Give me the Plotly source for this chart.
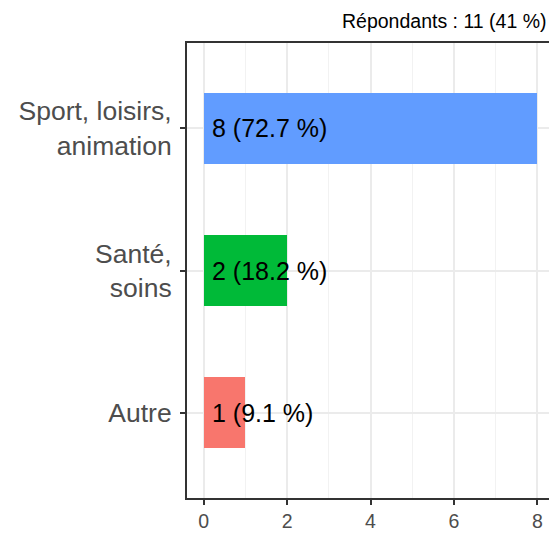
import plotly.graph_objects as go

categories = ["Autre", "Santé,<br>soins", "Sport, loisirs,<br>animation"]
counts = [1, 2, 8]
percents = [9.1, 18.2, 72.7]
colors = ["#F8766D", "#00BA38", "#619CFF"]
title_text = "Répondants : 11 (41 %)"
x_ticks = [0, 2, 4, 6, 8]

FONT = "Liberation Sans, Arial, sans-serif"

fig = go.Figure()
fig.add_trace(go.Bar(
    y=categories, x=counts, orientation="h",
    marker=dict(color=colors, line=dict(width=0)),
    width=0.5, hoverinfo="skip",
))

for c, n, p in zip(categories, counts, percents):
    fig.add_annotation(
        x=0, y=c, xref="x", yref="y",
        text=f"{n} ({p} %)", showarrow=False,
        xanchor="left", yanchor="middle", xshift=6,
        font=dict(family=FONT, size=25, color="black"),
    )

fig.add_annotation(
    x=1, y=1, xref="paper", yref="paper", xanchor="right", yanchor="bottom",
    yshift=9, xshift=-5, text=title_text, showarrow=False,
    font=dict(family=FONT, size=19.5, color="black"),
)

fig.update_layout(
    width=549, height=525,
    margin=dict(l=179, r=1, t=35, b=32, pad=0),
    plot_bgcolor="white", paper_bgcolor="white",
    showlegend=False,
    bargap=0,
    xaxis=dict(
        range=[-0.4, 8.4], tickvals=x_ticks, ticktext=[str(t) for t in x_ticks],
        showgrid=True, gridcolor="#EBEBEB", gridwidth=2,
        minor=dict(tickvals=[1, 3, 5, 7], showgrid=True, gridcolor="#F2F2F2", gridwidth=1, ticks=""),
        zeroline=False,
        showline=True, linecolor="#333333", linewidth=2, mirror=True,
        ticks="outside", ticklen=5, tickcolor="#333333", tickwidth=2,
        tickfont=dict(family=FONT, size=19.5, color="#4D4D4D"),
    ),
    yaxis=dict(
        range=[-0.6, 2.6], categoryorder="array", categoryarray=categories,
        showgrid=True, gridcolor="#EBEBEB", gridwidth=2,
        zeroline=False,
        showline=True, linecolor="#333333", linewidth=2, mirror=True,
        ticks="outside", ticklen=5, tickcolor="#333333", tickwidth=2,
        ticklabelstandoff=3,
        tickfont=dict(family=FONT, size=26.5, color="#4D4D4D"),
    ),
)

fig.write_html("out.html")
